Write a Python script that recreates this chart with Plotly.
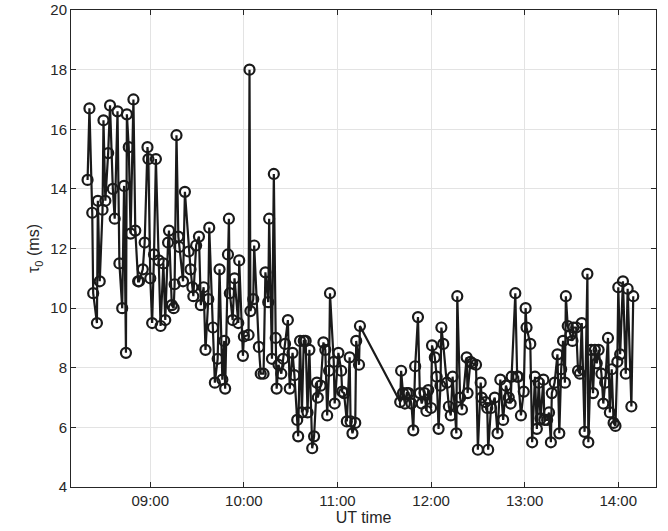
import plotly.graph_objects as go

# UT time in decimal hours, tau_0 in ms
ut_hours = [
    8.33, 8.35, 8.38, 8.39, 8.43, 8.44, 8.46, 8.49, 8.50, 8.52,
    8.55, 8.57, 8.60, 8.62, 8.65, 8.67, 8.70, 8.72, 8.74, 8.75,
    8.77, 8.79, 8.82, 8.84, 8.87, 8.88, 8.92, 8.94, 8.97, 8.98,
    9.00, 9.02, 9.04, 9.06, 9.09, 9.11, 9.14, 9.16, 9.19, 9.20,
    9.23, 9.25, 9.26, 9.28, 9.30, 9.31, 9.35, 9.37, 9.41, 9.43,
    9.45, 9.46, 9.49, 9.52, 9.54, 9.57, 9.59, 9.62, 9.63, 9.67,
    9.69, 9.72, 9.74, 9.77, 9.79, 9.80, 9.83, 9.84, 9.85, 9.88,
    9.90, 9.94, 9.95, 9.99, 10.00, 10.05, 10.06, 10.07, 10.10, 10.11,
    10.16, 10.18, 10.21, 10.23, 10.26, 10.27, 10.30, 10.32, 10.34, 10.35,
    10.37, 10.40, 10.42, 10.44, 10.47, 10.49, 10.52, 10.54, 10.57, 10.58,
    10.60, 10.62, 10.64, 10.66, 10.68, 10.70, 10.73, 10.75, 10.78, 10.79,
    10.82, 10.85, 10.87, 10.89, 10.91, 10.92, 10.96, 10.97, 11.01, 11.04,
    11.05, 11.07, 11.10, 11.13, 11.14, 11.16, 11.19, 11.20, 11.23, 11.24,
    11.67, 11.68, 11.70, 11.72, 11.74, 11.76, 11.79, 11.81, 11.83, 11.86,
    11.88, 11.90, 11.93, 11.95, 11.97, 12.00, 12.01, 12.04, 12.06, 12.08,
    12.10, 12.11, 12.13, 12.17, 12.19, 12.21, 12.23, 12.27, 12.28, 12.31,
    12.33, 12.38, 12.39, 12.42, 12.44, 12.48, 12.50, 12.53, 12.54, 12.58,
    12.60, 12.61, 12.64, 12.68, 12.71, 12.74, 12.77, 12.80, 12.83, 12.85,
    12.86, 12.90, 12.92, 12.93, 12.96, 12.99, 13.01, 13.02, 13.06, 13.08,
    13.11, 13.13, 13.15, 13.17, 13.20, 13.21, 13.24, 13.26, 13.28, 13.29,
    13.32, 13.35, 13.37, 13.39, 13.41, 13.43, 13.44, 13.46, 13.49, 13.51,
    13.52, 13.55, 13.57, 13.59, 13.61, 13.64, 13.67, 13.68, 13.71, 13.73,
    13.75, 13.77, 13.79, 13.82, 13.84, 13.86, 13.89, 13.91, 13.93, 13.95,
    13.97, 13.99, 14.00, 14.02, 14.05, 14.08, 14.10, 14.14, 14.16,
]
tau0_ms = [
    14.3, 16.7, 13.2, 10.5, 9.5, 13.6, 10.9, 13.3, 16.3, 13.6,
    15.2, 16.8, 14.0, 13.0, 16.6, 11.5, 10.0, 14.1, 8.5, 16.5,
    15.4, 12.5, 17.0, 12.6, 10.9, 10.9, 11.3, 12.2, 15.4, 15.0,
    11.0, 9.5, 11.8, 15.0, 11.6, 9.4, 11.5, 9.6, 12.2, 12.6,
    10.1, 10.0, 10.8, 15.8, 12.4, 12.05, 10.9, 13.9, 11.9, 11.3,
    10.7, 10.4, 12.1, 12.4, 10.1, 10.7, 8.6, 10.3, 12.7, 9.35,
    7.5, 8.3, 11.3, 7.6, 8.9, 7.3, 11.8, 13.0, 10.5, 9.6,
    11.0, 9.5, 11.6, 8.4, 9.05, 9.1, 18.0, 9.9, 10.3, 12.1,
    8.7, 7.8, 7.8, 11.2, 10.2, 13.0, 8.3, 14.5, 9.0, 7.3,
    8.1, 7.8, 8.3, 8.8, 9.6, 7.3, 8.5, 7.75, 6.25, 5.7,
    8.9, 6.5, 8.9, 8.9, 6.5, 8.6, 5.3, 5.7, 7.5, 7.0,
    7.4, 8.85, 8.6, 6.4, 7.9, 10.5, 8.2, 6.8, 8.5, 7.9,
    7.2, 7.15, 6.2, 8.35, 6.2, 5.8, 6.15, 8.9, 8.1, 9.4,
    6.85, 7.9, 7.15, 6.8, 7.15, 7.15, 6.8, 5.9, 8.05, 9.7,
    7.15, 6.8, 7.15, 6.55, 7.25, 6.65, 8.75, 8.35, 7.7, 5.95,
    7.4, 9.35, 8.8, 7.5, 6.7, 6.4, 7.7, 5.8, 10.4, 7.0,
    6.6, 8.35, 7.15, 8.2, 8.15, 8.1, 5.25, 7.5, 7.0, 6.85,
    6.65, 5.25, 6.65, 7.0, 5.8, 7.6, 6.25, 7.4, 7.0, 6.8,
    7.7, 10.5, 7.7, 7.7, 6.4, 7.2, 10.0, 9.35, 8.8, 5.5,
    7.7, 5.95, 7.5, 6.3, 7.6, 6.25, 6.25, 6.5, 5.5, 7.15,
    7.5, 8.45, 5.8, 7.95, 8.9, 7.5, 10.4, 9.4, 9.1, 8.9,
    9.35, 9.35, 7.9, 7.8, 9.5, 5.85, 11.15, 5.5, 8.6, 7.15,
    8.6, 8.15, 8.6, 7.8, 6.8, 7.5, 9.0, 6.5, 7.95, 6.15,
    6.05, 8.2, 10.7, 8.45, 10.9, 7.8, 10.65, 6.7, 10.4,
]

hour_ticks = [9, 10, 11, 12, 13, 14]
hour_labels = ["09:00", "10:00", "11:00", "12:00", "13:00", "14:00"]
tau_ticks = [4, 6, 8, 10, 12, 14, 16, 18, 20]

INK = "#262626"
GRID = "#e3e3e3"
FONT = "Liberation Sans, Arial, sans-serif"

fig = go.Figure()
fig.add_trace(go.Scatter(
    x=ut_hours, y=tau0_ms, mode="lines+markers",
    line=dict(color="#1a1a1a", width=2.2),
    marker=dict(symbol="circle-open", size=10, color="#1a1a1a",
                line=dict(width=2.2)),
    showlegend=False,
))

axis_common = dict(
    showline=True, linecolor=INK, linewidth=1, mirror="ticks",
    ticks="inside", ticklen=5, tickcolor=INK, tickwidth=1,
    showgrid=True, gridcolor=GRID, gridwidth=1, zeroline=False,
    tickfont=dict(family=FONT, size=15, color=INK),
    automargin=False,
)

fig.update_layout(
    width=668, height=531,
    paper_bgcolor="white", plot_bgcolor="white",
    margin=dict(l=71, r=12, t=10, b=44),
    font=dict(family=FONT, color=INK),
    xaxis=dict(
        range=[8.153, 14.403], tickvals=hour_ticks, ticktext=hour_labels,
        title=dict(text="UT time", font=dict(family=FONT, size=16, color=INK),
                   standoff=0),
        **axis_common,
    ),
    yaxis=dict(
        range=[4, 20], tickvals=tau_ticks,
        title=dict(text="τ<sub>0</sub> (ms)",
                   font=dict(family=FONT, size=16, color=INK), standoff=6),
        **axis_common,
    ),
)

# drop the browser's default body margin so the figure sits at the page corner
fig.write_html("out.html", config={"displayModeBar": False},
               post_script="document.body.style.margin='0';")
